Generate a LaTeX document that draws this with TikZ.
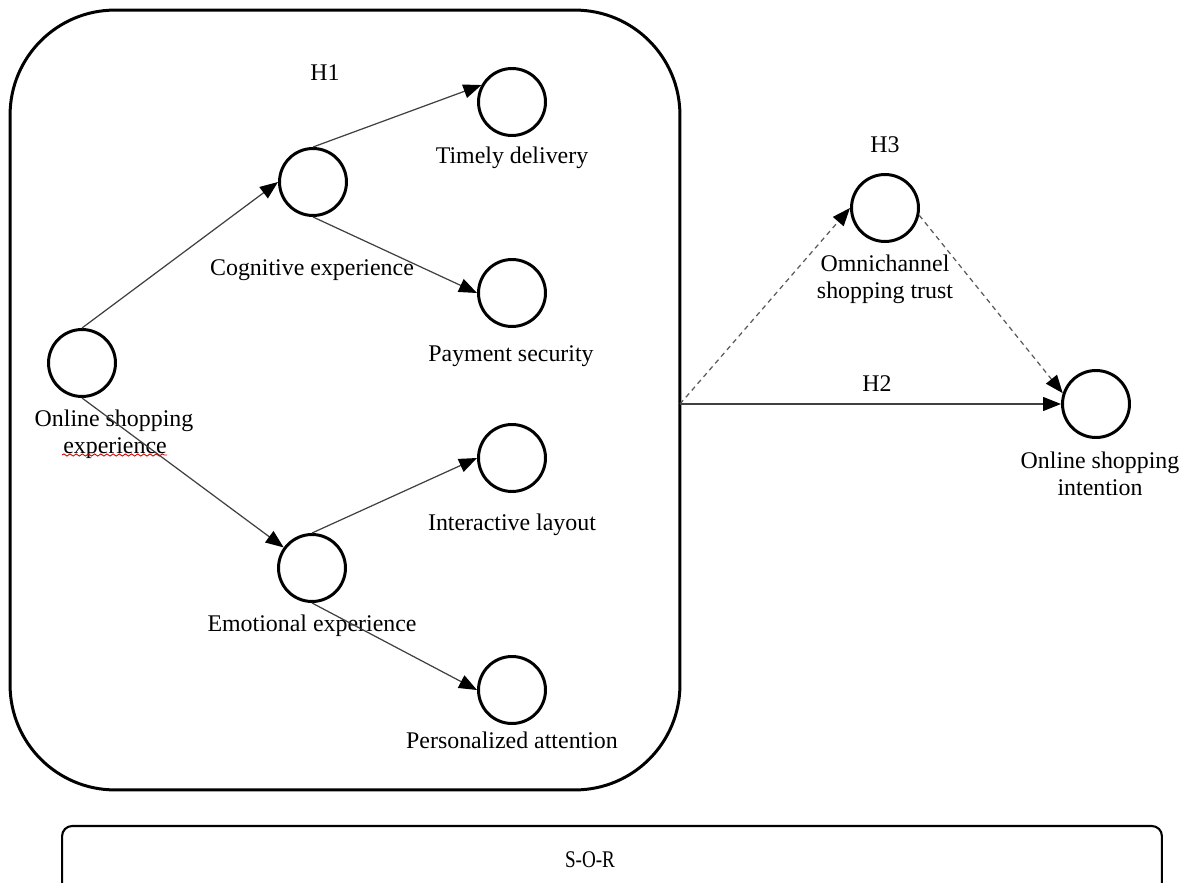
\documentclass[tikz,border=0pt]{standalone}
\usepackage{fontspec}
\setmainfont{Liberation Serif}
\usetikzlibrary{arrows.meta,decorations.pathmorphing}
\tikzset{
  circ/.style={circle,draw=black,line width=1.7pt,minimum size=1.34cm,inner sep=0pt},
  lbl/.style={font=\fontsize{13.6}{15.4}\selectfont,align=center,inner sep=0pt},
  conn/.style={draw=black!75,line width=0.7pt,-{Triangle[length=0.36cm,width=0.28cm,fill=black,color=black]}},
  dconn/.style={draw=black!65,line width=0.7pt,dash pattern=on 2.8pt off 2.3pt,-{Triangle[length=0.36cm,width=0.28cm,fill=black,color=black]}},
  bigbox/.style={draw=black,line width=1.7pt,rounded corners=2.1cm},
  sorbox/.style={draw=black,line width=1.2pt,rounded corners=0.2cm}
}
\begin{document}
\begin{tikzpicture}[x=0.02cm,y=-0.02cm]
\useasboundingbox (0,0) rectangle (1186,882);
\clip (0,0) rectangle (1186,882);
% big rounded container
\node[bigbox,minimum width=13.4cm,minimum height=15.6cm,inner sep=0pt] (stim) at (345,400) {};
% circles
\node[circ] (ose) at (82,363) {};
\node[circ] (cog) at (313,182) {};
\node[circ] (tim) at (512,102) {};
\node[circ] (pay) at (512,293) {};
\node[circ] (emo) at (312,568) {};
\node[circ] (int) at (512,458) {};
\node[circ] (per) at (512,690) {};
\node[circ] (omn) at (885,208) {};
\node[circ] (osi) at (1096,404) {};
% labels
\node[lbl] (h1) at (325,73) {H1};
\node[lbl] (ltim) at (512,158) {Timely delivery};
\node[lbl] (lcog) at (312,270) {Cognitive experience};
\node[lbl] (lpay) at (511,356) {Payment security};
\node[lbl] (lose1) at (114,421) {Online shopping};
\node[lbl] (lose2) at (115,448) {experience};
\node[lbl] (lint) at (512,525) {Interactive layout};
\node[lbl] (lemo) at (312,626) {Emotional experience};
\node[lbl] (lper) at (512,740) {Personalized attention};
\node[lbl] (h3) at (885,145) {H3};
\node[lbl] (lomn) at (885,279) {Omnichannel\\shopping trust};
\node[lbl] (h2) at (877,384) {H2};
\node[lbl] (losi) at (1100,474) {Online shopping\\intention};
% red wavy underline
\draw[red!85!black,line width=0.5pt,decorate,decoration={snake,amplitude=0.6pt,segment length=3.5pt}] (62,455) -- (167,455);
% connectors
\coordinate (src) at (680,404);
\draw[conn] (ose.north) -- (cog.west);
\draw[conn] (ose.south) -- (emo.144);
\draw[conn] (cog.north) -- (tim.151);
\draw[conn] (cog.south) -- (pay.west);
\draw[conn] (emo.north) -- (int.west);
\draw[conn] (emo.south) -- (per.west);
\draw[dconn] (src) -- (omn.west);
\draw[dconn] (omn.-12) -- (osi.162);
\draw[conn] (src) -- (osi.west);
% S-O-R box
\node[sorbox,minimum width=22cm,minimum height=1.6cm,inner sep=0pt] (sor) at (612,866) {};
\node[lbl] (lsor) at (590,860) {\scalebox{0.8}[1]{S-O-R}};
\end{tikzpicture}
\end{document}
